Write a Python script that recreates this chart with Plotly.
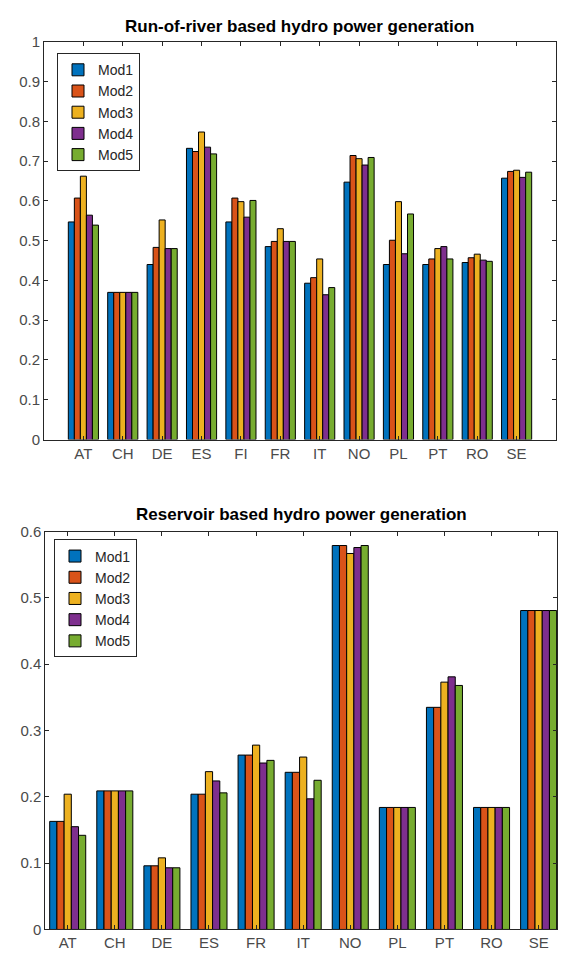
import plotly.graph_objects as go

# ---------------- data ----------------
countries_ror = ["AT", "CH", "DE", "ES", "FI", "FR", "IT", "NO", "PL", "PT", "RO", "SE"]
ror_mod1 = [0.547, 0.370, 0.440, 0.732, 0.547, 0.485, 0.393, 0.647, 0.440, 0.440, 0.445, 0.657]
ror_mod2 = [0.607, 0.370, 0.483, 0.724, 0.607, 0.498, 0.407, 0.714, 0.501, 0.454, 0.457, 0.674]
ror_mod3 = [0.662, 0.370, 0.552, 0.773, 0.598, 0.530, 0.454, 0.706, 0.598, 0.480, 0.466, 0.677]
ror_mod4 = [0.564, 0.370, 0.480, 0.735, 0.559, 0.498, 0.364, 0.690, 0.467, 0.485, 0.451, 0.659]
ror_mod5 = [0.539, 0.370, 0.480, 0.718, 0.601, 0.498, 0.382, 0.709, 0.567, 0.454, 0.448, 0.672]

countries_res = ["AT", "CH", "DE", "ES", "FR", "IT", "NO", "PL", "PT", "RO", "SE"]
res_mod1 = [0.163, 0.209, 0.096, 0.204, 0.263, 0.237, 0.579, 0.184, 0.335, 0.184, 0.481]
res_mod2 = [0.163, 0.209, 0.096, 0.204, 0.263, 0.237, 0.579, 0.184, 0.335, 0.184, 0.481]
res_mod3 = [0.204, 0.209, 0.108, 0.238, 0.278, 0.260, 0.567, 0.184, 0.373, 0.184, 0.481]
res_mod4 = [0.155, 0.209, 0.093, 0.224, 0.251, 0.197, 0.576, 0.184, 0.381, 0.184, 0.481]
res_mod5 = [0.142, 0.209, 0.093, 0.206, 0.255, 0.225, 0.579, 0.184, 0.368, 0.184, 0.481]

series_names = ["Mod1", "Mod2", "Mod3", "Mod4", "Mod5"]
colors = ["#0072BD", "#D95319", "#EDB120", "#7E2F8E", "#77AC30"]

title_top = "Run-of-river based hydro power generation"
title_bottom = "Reservoir based hydro power generation"

# ---------------- figure ----------------
W, H = 562, 963
FONT = "Liberation Sans, Arial, sans-serif"
TICK_COLOR = "#4a4a4a"
AX_COLOR = "#262626"

fig = go.Figure()

ror = [ror_mod1, ror_mod2, ror_mod3, ror_mod4, ror_mod5]
res = [res_mod1, res_mod2, res_mod3, res_mod4, res_mod5]

for name, col, vals in zip(series_names, colors, ror):
    fig.add_trace(go.Bar(
        x=countries_ror, y=vals, name=name, xaxis="x", yaxis="y",
        marker=dict(color=col, line=dict(color="#000000", width=1)),
        legend="legend", offsetgroup=name,
    ))
for name, col, vals in zip(series_names, colors, res):
    fig.add_trace(go.Bar(
        x=countries_res, y=vals, name=name, xaxis="x2", yaxis="y2",
        marker=dict(color=col, line=dict(color="#000000", width=1)),
        legend="legend2", offsetgroup=name,
    ))

def px_x(p):
    return p / W

def px_y(p):
    return 1 - p / H

axis_common = dict(
    showline=True, linecolor=AX_COLOR, linewidth=1, mirror="ticks",
    ticks="inside", ticklen=4, tickcolor=AX_COLOR, tickwidth=1,
    showgrid=False, zeroline=False,
    tickfont=dict(family=FONT, size=15, color=TICK_COLOR),
)

leg_common = dict(
    bgcolor="white", bordercolor=AX_COLOR, borderwidth=1,
    font=dict(family=FONT, size=14, color="#262626"),
    xanchor="left", yanchor="top", tracegroupgap=0,
    itemwidth=30,
)

fig.update_layout(
    width=W, height=H,
    margin=dict(l=0, r=0, t=0, b=0),
    paper_bgcolor="white", plot_bgcolor="white",
    barmode="group", bargap=0.235, bargroupgap=0.0,
    xaxis=dict(domain=[px_x(44), px_x(556)], anchor="y", type="category",
               range=[-1, 12], **axis_common),
    yaxis=dict(domain=[px_y(438.3), px_y(33.3)], anchor="x", range=[0, 1],
               dtick=0.1, tick0=0, **axis_common),
    xaxis2=dict(domain=[px_x(45.3), px_x(557)], anchor="y2", type="category",
                range=[-0.476, 10.39], **axis_common),
    yaxis2=dict(domain=[px_y(937), px_y(532)], anchor="x2", range=[0, 0.6],
                dtick=0.1, tick0=0, **axis_common),
    legend=dict(x=px_x(57), y=px_y(45), **leg_common),
    legend2=dict(x=px_x(54), y=px_y(540), **leg_common),
    annotations=[
        dict(text="<b>" + title_top + "</b>", xref="x domain", yref="paper",
             x=0.5, y=px_y(18), xanchor="center", yanchor="middle",
             showarrow=False, font=dict(family=FONT, size=17, color="#000000")),
        dict(text="<b>" + title_bottom + "</b>", xref="x2 domain", yref="paper",
             x=0.5, y=px_y(515), xanchor="center", yanchor="middle",
             showarrow=False, font=dict(family=FONT, size=17, color="#000000")),
    ],
)

fig.write_html("out.html",
               config={"displayModeBar": False},
               post_script="document.body.style.margin='0';document.body.style.overflow='hidden';")
